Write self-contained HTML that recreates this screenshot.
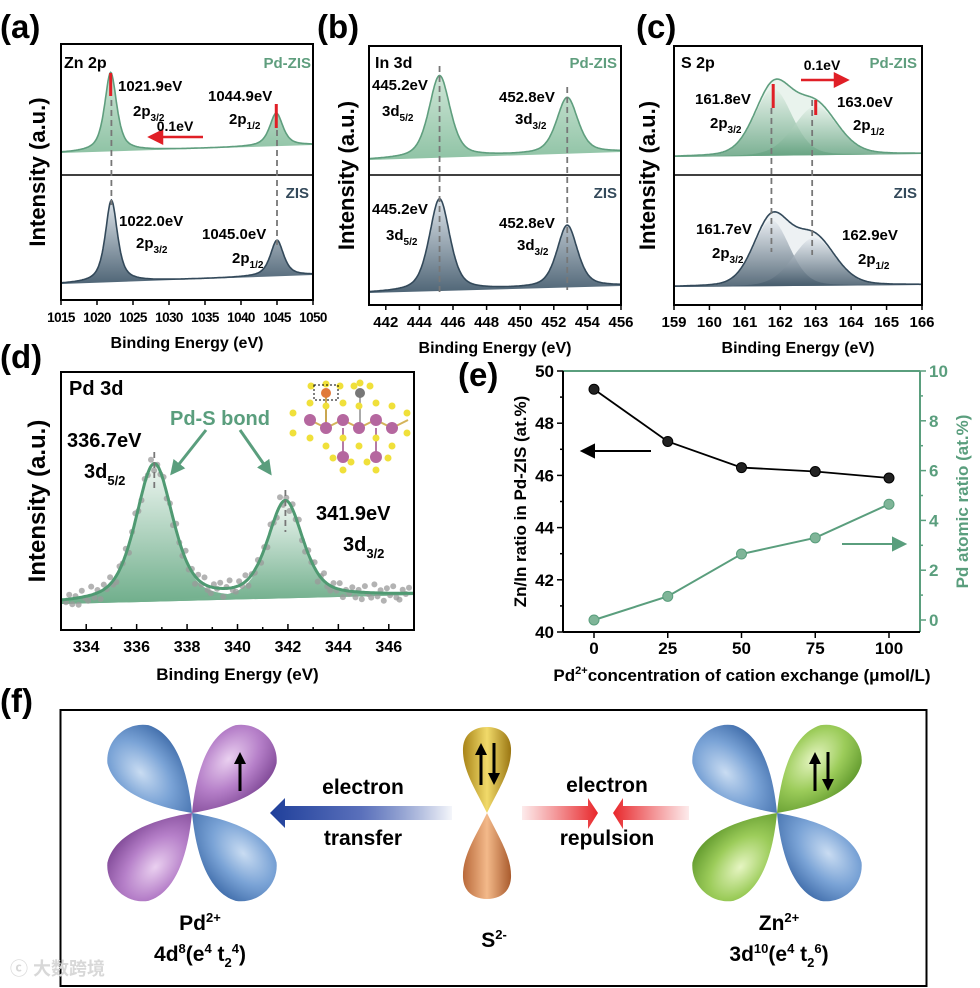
<!DOCTYPE html>
<html><head><meta charset="utf-8">
<style>
html,body{margin:0;padding:0;background:#fff;}
svg{display:block;font-family:"Liberation Sans",Arial,sans-serif;font-weight:bold;}
</style></head>
<body>
<svg id="fig" width="980" height="988" viewBox="0 0 980 988" xmlns="http://www.w3.org/2000/svg">
<defs>
  <linearGradient id="gGreen" x1="0" y1="0" x2="0" y2="1"><stop offset="0" stop-color="#cfe6d7"/><stop offset="1" stop-color="#8fc3a5"/></linearGradient>
  <linearGradient id="gGray" x1="0" y1="0" x2="0" y2="1"><stop offset="0" stop-color="#dde4ea"/><stop offset="1" stop-color="#4f6576"/></linearGradient>
  <linearGradient id="gGreenC" x1="0" y1="0" x2="0" y2="1"><stop offset="0" stop-color="#e4f1e8" stop-opacity="0.8"/><stop offset="1" stop-color="#5f9f7c" stop-opacity="0.8"/></linearGradient>
  <linearGradient id="gGrayC" x1="0" y1="0" x2="0" y2="1"><stop offset="0" stop-color="#e6ebf0" stop-opacity="0.85"/><stop offset="1" stop-color="#3f5566" stop-opacity="0.85"/></linearGradient>
  <linearGradient id="gD" x1="0" y1="0" x2="0" y2="1"><stop offset="0" stop-color="#eef6f1"/><stop offset="1" stop-color="#6fae8b"/></linearGradient>
  <radialGradient id="lBlue" cx="0.6" cy="0.35" r="0.7"><stop offset="0" stop-color="#c9dcf2"/><stop offset="0.5" stop-color="#7aa3d6"/><stop offset="1" stop-color="#3d6aa8"/></radialGradient>
  <radialGradient id="lPurple" cx="0.6" cy="0.35" r="0.7"><stop offset="0" stop-color="#ead0f0"/><stop offset="0.5" stop-color="#b680c9"/><stop offset="1" stop-color="#7c4593"/></radialGradient>
  <radialGradient id="lGreen" cx="0.6" cy="0.35" r="0.7"><stop offset="0" stop-color="#e6f5c2"/><stop offset="0.5" stop-color="#9ccc5a"/><stop offset="1" stop-color="#5d962a"/></radialGradient>
  <linearGradient id="lGold" x1="0" y1="0" x2="1" y2="0"><stop offset="0" stop-color="#a88418"/><stop offset="0.5" stop-color="#f1da6a"/><stop offset="1" stop-color="#9a7612"/></linearGradient>
  <linearGradient id="lOrange" x1="0" y1="0" x2="1" y2="0"><stop offset="0" stop-color="#b9693a"/><stop offset="0.5" stop-color="#f3b98a"/><stop offset="1" stop-color="#a95b2d"/></linearGradient>
  <linearGradient id="aBlue" x1="0" y1="0" x2="1" y2="0"><stop offset="0" stop-color="#1f3f9a"/><stop offset="0.5" stop-color="#5a70bb"/><stop offset="1" stop-color="#2a4aa5" stop-opacity="0.05"/></linearGradient>
  <linearGradient id="aRedR" x1="0" y1="0" x2="1" y2="0"><stop offset="0" stop-color="#e8383c" stop-opacity="0.1"/><stop offset="1" stop-color="#e8262a"/></linearGradient>
  <linearGradient id="aRedL" x1="1" y1="0" x2="0" y2="0"><stop offset="0" stop-color="#e8383c" stop-opacity="0.1"/><stop offset="1" stop-color="#e8262a"/></linearGradient>
  <marker id="mGreen" viewBox="0 0 10 10" refX="8" refY="5" markerWidth="5" markerHeight="5" orient="auto"><path d="M0,0 L10,5 L0,10 Z" fill="#5a9e7d"/></marker>
</defs>

<text x="0" y="38" font-size="33">(a)</text>
<text x="317" y="38" font-size="33">(b)</text>
<text x="636" y="38" font-size="33">(c)</text>
<text x="0" y="368" font-size="33">(d)</text>
<text x="458" y="386" font-size="33">(e)</text>
<text x="0" y="712" font-size="33">(f)</text>

<g id="xps"></g>
<g id="pd"></g>
<g id="ech"></g>

<g>
  <rect x="60.5" y="710" width="866" height="276" fill="none" stroke="#000" stroke-width="2"/>
  <g id="orbPd" transform="translate(192,813)"></g>
  <g id="orbZn" transform="translate(777,813)"></g>
  <g>
    <path d="M487,813 C476,790 462,770 463,748 C464,733 475,727 487,727 C499,727 510,733 511,748 C512,770 498,790 487,813 Z" fill="url(#lGold)"/>
    <path d="M487,813 C476,836 462,856 463,878 C464,893 475,899 487,899 C499,899 510,893 511,878 C512,856 498,836 487,813 Z" fill="url(#lOrange)"/>
  </g>
  <g id="spins" stroke="#000" stroke-width="3" fill="#000">
    <line x1="240" y1="791" x2="240" y2="762"/><path d="M234,764 L240,752 L246,764 Z" stroke="none"/>
    <line x1="481" y1="785" x2="481" y2="753"/><path d="M475,755 L481,743 L487,755 Z" stroke="none"/>
    <line x1="494" y1="743" x2="494" y2="775"/><path d="M488,773 L494,785 L500,773 Z" stroke="none"/>
    <line x1="815" y1="791" x2="815" y2="762"/><path d="M809,764 L815,752 L821,764 Z" stroke="none"/>
    <line x1="828" y1="752" x2="828" y2="781"/><path d="M822,779 L828,791 L834,779 Z" stroke="none"/>
  </g>
  <path d="M285,806 L452,806 L452,820 L285,820 L285,828 L270,813 L285,798 Z" fill="url(#aBlue)"/>
  <path d="M522,806 L588,806 L588,798 L598,813 L588,829 L588,820 L522,820 Z" fill="url(#aRedR)"/>
  <path d="M689,806 L623,806 L623,798 L613,813 L623,829 L623,820 L689,820 Z" fill="url(#aRedL)"/>
  <g font-size="21" text-anchor="middle">
    <text x="363" y="794">electron</text>
    <text x="363" y="845">transfer</text>
    <text x="607" y="792">electron</text>
    <text x="607" y="845">repulsion</text>
    <text x="200" y="930">Pd<tspan dy="-8" font-size="13">2+</tspan></text>
    <text x="200" y="961">4d<tspan dy="-8" font-size="13">8</tspan><tspan dy="8">(e</tspan><tspan dy="-8" font-size="13">4</tspan><tspan dy="8"> t</tspan><tspan dy="6" font-size="13">2</tspan><tspan dy="-14" font-size="13">4</tspan><tspan dy="8">)</tspan></text>
    <text x="494" y="947">S<tspan dy="-8" font-size="13">2-</tspan></text>
    <text x="779" y="930">Zn<tspan dy="-8" font-size="13">2+</tspan></text>
    <text x="779" y="961">3d<tspan dy="-8" font-size="13">10</tspan><tspan dy="8">(e</tspan><tspan dy="-8" font-size="13">4</tspan><tspan dy="8"> t</tspan><tspan dy="6" font-size="13">2</tspan><tspan dy="-14" font-size="13">6</tspan><tspan dy="8">)</tspan></text>
  </g>
  <text x="10" y="975" font-size="18" fill="#d8d8d8" font-family="'Liberation Sans','Noto Sans CJK SC',sans-serif">ⓒ 大数跨境</text>
</g>
</svg>

<script>
// ===== Panel (e) data =====
const eCategories = [0, 25, 50, 75, 100];
const znInRatio = [49.3, 47.3, 46.3, 46.15, 45.9];
const pdAtomicRatio = [0, 0.95, 2.65, 3.3, 4.65];
const leftTicks = [40, 42, 44, 46, 48, 50];
const rightTicks = [0, 2, 4, 6, 8, 10];
const xTicksE = [0, 25, 50, 75, 100];

// ===== XPS peak data: [center eV, height, FWHM, lorentz fraction] =====
const znPdZIS = [[1021.9, 79, 2.0, 0.7], [1044.9, 33, 2.2, 0.7]];
const znZIS = [[1022.0, 82, 2.0, 0.7], [1045.0, 36, 2.2, 0.7]];
const inPdZIS = [[445.2, 82, 1.5, 0.5], [452.8, 56, 1.5, 0.5]];
const inZIS = [[445.2, 92, 1.45, 0.5], [452.8, 62, 1.45, 0.5]];
const sPdZIS = [[161.8, 67, 1.25, 0.2], [163.0, 49, 1.45, 0.2]];
const sZIS = [[161.75, 66, 1.2, 0.2], [162.95, 48, 1.4, 0.2]];
const pd3d = [[336.7, 137, 1.75, 0.5], [341.9, 96, 1.65, 0.5]];
const pdNoise = [4,-6,8,-3,10,-9,2,7,-12,5,-4,11,-7,3,-10,6,9,-5,1,-8,12,-2,-11,4,7,-6,3,-9,10,-1];

const NS = "http://www.w3.org/2000/svg";
function el(tag, attrs, parent){ const e=document.createElementNS(NS,tag); for(const k in attrs) e.setAttribute(k,attrs[k]); if(parent) parent.appendChild(e); return e; }
function pv(x,p){ const d=(x-p[0])/p[2]; const L=1/(1+4*d*d); const G=Math.exp(-4*Math.LN2*d*d); return p[1]*(p[3]*L+(1-p[3])*G); }
function setRich(t,segs){
  segs.forEach(sg=>{
    if(typeof sg==="string"){ t.appendChild(document.createTextNode(sg)); return; }
    const ts=document.createElementNS(NS,"tspan");
    if(sg[1]) ts.setAttribute("dy",sg[1]);
    if(sg[2]) ts.setAttribute("font-size",sg[2]);
    ts.appendChild(document.createTextNode(sg[0]));
    t.appendChild(ts);
  });
}

function xpsPanel(g, box, emin, emax, ticks, subs, title, ylabX, tickFont){
  const sx = e => box.x0 + (e-emin)/(emax-emin)*(box.x1-box.x0);
  subs.forEach((s) => {
    const bl = e => s.bl[0] + (e-emin)/(emax-emin)*(s.bl[1]-s.bl[0]);
    const N=300; let pts=[];
    for(let i=0;i<=N;i++){ const e=emin+(emax-emin)*i/N; let sum=0; s.peaks.forEach(p=>sum+=pv(e,p)); pts.push([sx(e), bl(e)-sum]); }
    if(s.components){
      let d2="M"+pts.map(q=>q[0].toFixed(1)+","+q[1].toFixed(1)).join(" L");
      const envFill = el("path",{d:d2+" L"+sx(emax)+","+bl(emax)+" L"+sx(emin)+","+bl(emin)+" Z", fill:s.envFill, opacity:0.45},g);
      
      
      s.peaks.forEach((p,pi)=>{
        let d="M"+sx(emin)+","+bl(emin);
        for(let i=0;i<=N;i++){ const e=emin+(emax-emin)*i/N; d+=" L"+sx(e).toFixed(1)+","+(bl(e)-pv(e,p)).toFixed(1); }
        d+=" L"+sx(emax)+","+bl(emax)+" Z";
        const c = el("path",{d:d, fill:s.compFill},g);
        
        
      });
    } else {
      let d="M"+pts.map(q=>q[0].toFixed(1)+","+q[1].toFixed(1)).join(" L")+" L"+sx(emax)+","+bl(emax)+" L"+sx(emin)+","+bl(emin)+" Z";
      const f = el("path",{d:d, fill:s.fill},g);
      
      
    }
    const ln = el("path",{d:"M"+pts.map(q=>q[0].toFixed(1)+","+q[1].toFixed(1)).join(" L"), fill:"none", stroke:s.stroke, "stroke-width":1.6},g);
    
    
  });
  const fr = el("rect",{x:box.x0,y:box.y0,width:box.x1-box.x0,height:box.y1-box.y0,fill:"none",stroke:"#000","stroke-width":2},g);
  
  
  const dv = el("line",{x1:box.x0,x2:box.x1,y1:box.div,y2:box.div,stroke:"#000","stroke-width":1.5},g);
  
  
  ticks.forEach(t=>{
    el("line",{x1:sx(t),x2:sx(t),y1:box.y1,y2:box.y1+5,stroke:"#000","stroke-width":1.5},g);
    const tx = el("text",{x:sx(t),y:box.y1+22,"font-size":tickFont,"text-anchor":"middle","letter-spacing":tickFont<15?"-0.6":"0"},g);
    tx.textContent = String(t);
    
    
  });
  const xl = el("text",{x:(box.x0+box.x1)/2,y:box.y1+48,"font-size":16,"text-anchor":"middle"},g);
  xl.textContent="Binding Energy (eV)";
  
  
  const yl = el("text",{x:0,y:0,"font-size":22,"text-anchor":"middle",transform:`translate(${ylabX},${(box.y0+box.y1)/2}) rotate(-90)`},g);
  yl.textContent="Intensity (a.u.)";
  
  
  return sx;
}
function txt(g, x, y, s, size, fill, anchor, name){
  const t=el("text",{x:x,y:y,"font-size":size,fill:fill||"#000","text-anchor":anchor||"start"},g);
  if(Array.isArray(s)) setRich(t,s); else t.textContent=s;
  
  
  return t;
}
function sub(main, s){ return [main,[s,5,10]]; }
function dash(g,x,y1,y2){ const l=el("line",{x1:x,x2:x,y1:y1,y2:y2,stroke:"#777","stroke-width":1.8,"stroke-dasharray":"6,4"},g);   }
function redTick(g,x,y1,y2){ const l=el("line",{x1:x,x2:x,y1:y1,y2:y2,stroke:"#e01f26","stroke-width":3},g);   }
function redArrow(g,x1,x2,y){ const dir=x2>x1?1:-1; const l=el("path",{d:`M${x1},${y} L${x2-dir*10},${y} M${x2},${y} L${x2-dir*12},${y-6} L${x2-dir*12},${y+6} Z`,stroke:"#e01f26","stroke-width":2.5,fill:"#e01f26"},g);   }

const GREEN="#5f9e7e", SLATE="#33495a", PF=15;
const xps=document.getElementById("xps");

// (a)
const ga=el("g",{},xps);  
let sa=xpsPanel(ga,{x0:61,x1:313,y0:44,y1:300,div:175},1015,1050,[1015,1020,1025,1030,1035,1040,1045,1050],
 [{name:'pd-zis',bl:[153,145],peaks:znPdZIS,fill:"url(#gGreen)",stroke:GREEN},
  {name:'zis',bl:[284,275],peaks:znZIS,fill:"url(#gGray)",stroke:SLATE}],"zn-2p",45,13.5);
dash(ga,sa(1022),100,205); dash(ga,sa(1045),130,245);
redTick(ga,sa(1021.9),73,96); redTick(ga,sa(1044.9),104,128);
redArrow(ga,203,150,137);
txt(ga,175,131,"0.1eV",14,"#000","middle","shift-label");
txt(ga,64,68,"Zn 2p",16,"#000","start","core-level-title");
txt(ga,311,68,"Pd-ZIS",15,GREEN,"end","sample-label-pdzis");
txt(ga,309,198,"ZIS",15,SLATE,"end","sample-label-zis");
txt(ga,118,91,"1021.9eV",PF,"#000","start","peak-label");
txt(ga,133,116,sub("2p","3/2"),PF,"#000","start","orbital-label");
txt(ga,208,101,"1044.9eV",PF,"#000","start","peak-label");
txt(ga,229,124,sub("2p","1/2"),PF,"#000","start","orbital-label");
txt(ga,119,226,"1022.0eV",PF,"#000","start","peak-label");
txt(ga,136,248,sub("2p","3/2"),PF,"#000","start","orbital-label");
txt(ga,202,239,"1045.0eV",PF,"#000","start","peak-label");
txt(ga,232,263,sub("2p","1/2"),PF,"#000","start","orbital-label");

// (b)
const gb=el("g",{},xps);  
let sbx=xpsPanel(gb,{x0:369,x1:621,y0:46,y1:305,div:175},441,456,[442,444,446,448,450,452,454,456],
 [{name:'pd-zis',bl:[160,152],peaks:inPdZIS,fill:"url(#gGreen)",stroke:GREEN},
  {name:'zis',bl:[293,286],peaks:inZIS,fill:"url(#gGray)",stroke:SLATE}],"in-3d",354,15);
dash(gb,sbx(445.2),66,292); dash(gb,sbx(452.8),87,290);
txt(gb,375,68,"In 3d",16,"#000","start","core-level-title");
txt(gb,617,68,"Pd-ZIS",15,GREEN,"end","sample-label-pdzis");
txt(gb,617,198,"ZIS",15,SLATE,"end","sample-label-zis");
txt(gb,372,90,"445.2eV",PF,"#000","start","peak-label");
txt(gb,382,116,sub("3d","5/2"),PF,"#000","start","orbital-label");
txt(gb,499,102,"452.8eV",PF,"#000","start","peak-label");
txt(gb,515,124,sub("3d","3/2"),PF,"#000","start","orbital-label");
txt(gb,372,214,"445.2eV",PF,"#000","start","peak-label");
txt(gb,386,240,sub("3d","5/2"),PF,"#000","start","orbital-label");
txt(gb,499,228,"452.8eV",PF,"#000","start","peak-label");
txt(gb,517,250,sub("3d","3/2"),PF,"#000","start","orbital-label");

// (c)
const gc=el("g",{},xps);  
let scx=xpsPanel(gc,{x0:674,x1:922,y0:46,y1:305,div:175},159,166,[159,160,161,162,163,164,165,166],
 [{name:'pd-zis',bl:[157,154],peaks:sPdZIS,components:true,compFill:"url(#gGreenC)",envFill:"#cfe5d7",stroke:GREEN},
  {name:'zis',bl:[287,285],peaks:sZIS,components:true,compFill:"url(#gGrayC)",envFill:"#d8dfe5",stroke:SLATE}],"s-2p",655,15);
dash(gc,scx(161.75),108,252); dash(gc,scx(162.9),100,255);
redTick(gc,scx(161.8),84,108); redTick(gc,scx(163.0),100,115);
redArrow(gc,801,847,80);
txt(gc,822,70,"0.1eV",14,"#000","middle","shift-label");
txt(gc,681,68,"S 2p",16,"#000","start","core-level-title");
txt(gc,917,68,"Pd-ZIS",15,GREEN,"end","sample-label-pdzis");
txt(gc,917,198,"ZIS",15,SLATE,"end","sample-label-zis");
txt(gc,695,104,"161.8eV",PF,"#000","start","peak-label");
txt(gc,710,128,sub("2p","3/2"),PF,"#000","start","orbital-label");
txt(gc,837,107,"163.0eV",PF,"#000","start","peak-label");
txt(gc,853,130,sub("2p","1/2"),PF,"#000","start","orbital-label");
txt(gc,696,234,"161.7eV",PF,"#000","start","peak-label");
txt(gc,712,258,sub("2p","3/2"),PF,"#000","start","orbital-label");
txt(gc,842,240,"162.9eV",PF,"#000","start","peak-label");
txt(gc,858,264,sub("2p","1/2"),PF,"#000","start","orbital-label");

// (d)
(function(){
  const g=document.getElementById("pd");
  const x0=61,x1=414,y0=372,y1=630,emin=333,emax=347;
  const sx=e=>x0+(e-emin)/(emax-emin)*(x1-x0);
  const bl=e=>604-(e-emin)/(emax-emin)*9;
  const N=300;
  pd3d.forEach((p,pi)=>{
    let d="M"+sx(emin)+","+bl(emin);
    for(let i=0;i<=N;i++){const e=emin+(emax-emin)*i/N; d+=" L"+sx(e).toFixed(1)+","+(bl(e)-pv(e,p)).toFixed(1);}
    d+=" L"+sx(emax)+","+bl(emax)+" Z";
    const f=el("path",{d:d,fill:"url(#gD)"},g);
    
    
  });
  for(let i=0;i<110;i++){
    const e=emin+0.2+i*(emax-emin-0.4)/109; let s=0; pd3d.forEach(p=>s+=pv(e,p));
    const c=el("circle",{cx:sx(e).toFixed(1),cy:(bl(e)-s+pdNoise[i%pdNoise.length]*0.7).toFixed(1),r:3,fill:"#9a9a9a",opacity:0.75},g);
    
    
  }
  let d="";
  for(let i=0;i<=N;i++){const e=emin+(emax-emin)*i/N; let s=0; pd3d.forEach(p=>s+=pv(e,p)); d+=(i?" L":"M")+sx(e).toFixed(1)+","+(bl(e)-s).toFixed(1);}
  const ln=el("path",{d:d,fill:"none",stroke:"#4f9a72","stroke-width":3},g);
  
  
  const fr=el("rect",{x:x0,y:y0,width:x1-x0,height:y1-y0,fill:"none",stroke:"#000","stroke-width":2},g);
  
  
  for(let t=334;t<=346;t+=1){
    el("line",{x1:sx(t),x2:sx(t),y1:y1,y2:y1-(t%2===0?6:3),stroke:"#000","stroke-width":1.5},g);
    if(t%2===0){ txt(g,sx(t),y1+22,String(t),16,"#000","middle","x-tick-label"); }
  }
  txt(g,(x0+x1)/2,y1+50,"Binding Energy (eV)",17,"#000","middle","x-axis-title");
  const yl=el("text",{x:0,y:0,"font-size":24,"text-anchor":"middle",transform:`translate(45,${(y0+y1)/2}) rotate(-90)`},g);
  yl.textContent="Intensity (a.u.)";  
  dash(g,sx(336.7),452,492); dash(g,sx(341.9),490,532);
  txt(g,69,395,"Pd 3d",20,"#000","start","core-level-title");
  txt(g,170,425,"Pd-S bond",20,"#5a9e7d","start","bond-label");
  txt(g,67,447,"336.7eV",20,"#000","start","peak-label");
  txt(g,84,478,["3d",["5/2",7,13]],20,"#000","start","orbital-label");
  txt(g,316,520,"341.9eV",20,"#000","start","peak-label");
  txt(g,343,551,["3d",["3/2",7,13]],20,"#000","start","orbital-label");
  const a1=el("line",{x1:206,y1:430,x2:172,y2:473,stroke:"#5a9e7d","stroke-width":3,"marker-end":"url(#mGreen)"},g);
   
  const a2=el("line",{x1:240,y1:430,x2:270,y2:473,stroke:"#5a9e7d","stroke-width":3,"marker-end":"url(#mGreen)"},g);
   
  const cg=el("g",{},g);  
  const purp=[[310,420],[326,428],[343,420],[359,428],[376,420],[392,428]];
  const yel=[[293,413],[293,433],[310,403],[326,406],[343,403],[359,406],[376,403],[392,406],[407,413],[407,433],[310,438],[326,446],[343,438],[359,446],[376,438],[392,446],[311,386],[340,386],[326,384],[354,386],[370,386],[360,383],[333,458],[388,458],[351,462],[367,462],[343,470],[376,470]];
  purp.forEach(p=>{el("line",{x1:p[0],y1:p[1],x2:p[0]+16,y2:p[1]+(p[1]===420?8:-8),stroke:"#d4b35a","stroke-width":2},cg);});
  el("line",{x1:326,y1:393,x2:326,y2:428,stroke:"#c9a650","stroke-width":2},cg);
  el("line",{x1:360,y1:393,x2:360,y2:428,stroke:"#aaa","stroke-width":2},cg);
  el("line",{x1:343,y1:428,x2:343,y2:457,stroke:"#b57aa6","stroke-width":2},cg);
  el("line",{x1:376,y1:428,x2:376,y2:457,stroke:"#b57aa6","stroke-width":2},cg);
  yel.forEach(p=>el("circle",{cx:p[0],cy:p[1],r:3.5,fill:"#f0e03a"},cg));
  purp.forEach(p=>el("circle",{cx:p[0],cy:p[1],r:6,fill:"#b5679f"},cg));
  el("circle",{cx:343,cy:457,r:6,fill:"#b5679f"},cg);
  el("circle",{cx:376,cy:457,r:6,fill:"#b5679f"},cg);
  el("circle",{cx:326,cy:393,r:5,fill:"#e07a3a"},cg);
  el("circle",{cx:360,cy:393,r:5,fill:"#777"},cg);
  el("rect",{x:314,y:385,width:24,height:15,fill:"none",stroke:"#000","stroke-width":1,"stroke-dasharray":"2,2"},cg);
})();

// (e)
(function(){
  const g=document.getElementById("ech");
  const L=563,R=920,T=371,B=632, GR="#5a9e7d";
  const sx=v=>594+v*(889-594)/100;
  const syL=v=>B-(v-40)*26.1;
  const syR=v=>620-v*24.9;
  el("line",{x1:L,y1:T,x2:R,y2:T,stroke:GR,"stroke-width":2},g);
  el("line",{x1:R,y1:T,x2:R,y2:B,stroke:GR,"stroke-width":2},g);
  el("line",{x1:L,y1:T,x2:L,y2:B,stroke:"#000","stroke-width":2},g);
  el("line",{x1:L,y1:B,x2:R,y2:B,stroke:"#000","stroke-width":2},g);
  for(let v=40;v<=50;v++){ el("line",{x1:L,x2:L-(v%2===0?6:3),y1:syL(v),y2:syL(v),stroke:"#000","stroke-width":1.5},g); }
  leftTicks.forEach(v=>txt(g,L-9,syL(v)+6,String(v),17,"#000","end","left-tick-label"));
  for(let v=0;v<=10;v++){ el("line",{x1:R,x2:R+(v%2===0?6:3),y1:syR(v),y2:syR(v),stroke:GR,"stroke-width":1.5},g); }
  rightTicks.forEach(v=>txt(g,R+9,syR(v)+6,String(v),17,GR,"start","right-tick-label"));
  xTicksE.forEach(v=>{ el("line",{x1:sx(v),x2:sx(v),y1:B,y2:B+6,stroke:"#000","stroke-width":1.5},g); txt(g,sx(v),B+22,String(v),17,"#000","middle","x-tick-label"); });
  txt(g,742,681,["Pd",["2+",-7,11],["concentration of cation exchange (μmol/L)",7,0]],17,"#000","middle","x-axis-title");
  const yl=el("text",{x:0,y:0,"font-size":17,"text-anchor":"middle",transform:`translate(526,${(T+B)/2}) rotate(-90)`},g);
  yl.textContent="Zn/In ratio in Pd-ZIS (at.%)";  
  const yr=el("text",{x:0,y:0,"font-size":17,"text-anchor":"middle",fill:GR,transform:`translate(968,${(T+B)/2}) rotate(-90)`},g);
  yr.textContent="Pd atomic ratio (at.%)";  
  const l1=el("path",{d:"M"+eCategories.map((c,i)=>sx(c)+","+syL(znInRatio[i])).join(" L"),fill:"none",stroke:"#000","stroke-width":1.8},g);
   
  const l2=el("path",{d:"M"+eCategories.map((c,i)=>sx(c)+","+syR(pdAtomicRatio[i])).join(" L"),fill:"none",stroke:GR,"stroke-width":2},g);
   
  eCategories.forEach((c,i)=>{
    const p=el("circle",{cx:sx(c),cy:syL(znInRatio[i]),r:5,fill:"#222",stroke:"#000","stroke-width":1},g);
     
    const q=el("circle",{cx:sx(c),cy:syR(pdAtomicRatio[i]),r:5,fill:"#7fb598",stroke:GR,"stroke-width":1},g);
     
  });
  const a1=el("path",{d:"M651,451 L592,451 M582,451 L594,445 L594,457 Z",stroke:"#000","stroke-width":2,fill:"#000"},g);
   
  const a2=el("path",{d:"M842,544 L895,544 M905,544 L893,538 L893,550 Z",stroke:GR,"stroke-width":2,fill:GR},g);
   
})();

function lobes(id, fills){
  const g=document.getElementById(id);
  const angles=[-133,-47,133,47];
  angles.forEach((a,i)=>{
    const p=el("path",{d:"M0,0 C26,-20 66,-44 94,-28 C112,-14 112,14 94,28 C66,44 26,20 0,0 Z",fill:fills[i],transform:`rotate(${a})`},g);
    
    
  });
}
lobes("orbPd",["url(#lBlue)","url(#lPurple)","url(#lPurple)","url(#lBlue)"]);
lobes("orbZn",["url(#lBlue)","url(#lGreen)","url(#lGreen)","url(#lBlue)"]);
const sp=document.getElementById("spins"); sp.parentNode.appendChild(sp);
</script>
</body></html>
